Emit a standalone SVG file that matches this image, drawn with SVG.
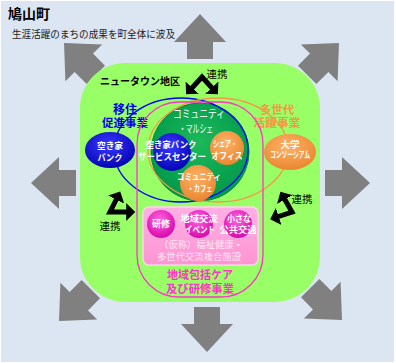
<svg xmlns="http://www.w3.org/2000/svg" width="396" height="363" viewBox="0 0 396 363">
<style>
text{font-family:"Noto Sans CJK JP","Noto Sans",sans-serif;}
.b{font-weight:bold;}
.w{fill:#ffffff;}
.sm{font-size:9px;font-weight:bold;fill:#ffffff;text-anchor:middle;}
.lk{font-size:10.5px;fill:#000000;text-anchor:middle;}
.ga{fill:#808080;}
.ba{fill:none;stroke:#000000;stroke-width:5;stroke-linejoin:miter;marker-start:url(#bh);marker-end:url(#bh);}
</style>
<defs>
<path id="garrow" d="M0,0 L26,28 L13,28 L13,45 L-13,45 L-13,28 L-26,28 Z"/>
<marker id="bh" viewBox="0 0 10 10" refX="1" refY="5" markerWidth="3.6" markerHeight="3.6" orient="auto-start-reverse">
<path d="M0,0 L5,5 L0,10 Z" fill="#000000"/>
</marker>
<radialGradient id="gBlue" cx="0.45" cy="0.35" r="0.7">
<stop offset="0" stop-color="#3a3aff"/><stop offset="1" stop-color="#0000b0"/>
</radialGradient>
<radialGradient id="gOr" cx="0.45" cy="0.35" r="0.7">
<stop offset="0" stop-color="#ffb266"/><stop offset="1" stop-color="#e8842e"/>
</radialGradient>
<radialGradient id="gMg" cx="0.45" cy="0.35" r="0.7">
<stop offset="0" stop-color="#ff66e0"/><stop offset="1" stop-color="#d600a8"/>
</radialGradient>
<radialGradient id="gGr" cx="0.5" cy="0.4" r="0.6">
<stop offset="0" stop-color="#1cb85a"/><stop offset="1" stop-color="#00994a"/>
</radialGradient>
<linearGradient id="gPk" x1="0" y1="0" x2="0" y2="1">
<stop offset="0" stop-color="#ffb0e6"/><stop offset="1" stop-color="#ff95d2"/>
</linearGradient>
</defs>

<rect x="0" y="0" width="396" height="363" fill="#ffffff"/>
<rect x="1" y="1" width="393" height="361" fill="#dce6f2"/>

<g id="title">
<text x="8" y="19" class="b" font-size="14" fill="#000">鳩山町</text>
<text x="12" y="38" font-size="10" fill="#222" textLength="163" lengthAdjust="spacingAndGlyphs">生涯活躍のまちの成果を町全体に波及</text>
</g>

<g id="spread-arrows" class="ga">
<use href="#garrow" transform="translate(200,14)"/>
<use href="#garrow" transform="translate(207,352) rotate(180)"/>
<use href="#garrow" transform="translate(31,183) rotate(-90)"/>
<use href="#garrow" transform="translate(370,183) rotate(90)"/>
<use href="#garrow" transform="translate(64,43) rotate(-45)"/>
<use href="#garrow" transform="translate(339,43) rotate(45)"/>
<use href="#garrow" transform="translate(59,321) rotate(-135)"/>
<use href="#garrow" transform="translate(342,320) rotate(135)"/>
</g>

<g id="newtown">
<rect x="80" y="63" width="240" height="239" rx="45" ry="45" fill="#99ff66"/>
<text x="100" y="85" class="b" font-size="10.5" fill="#000" textLength="80" lengthAdjust="spacingAndGlyphs">ニュータウン地区</text>
</g>

<g id="marche">
<circle cx="200" cy="152" r="49" fill="url(#gGr)" stroke="#008a40" stroke-width="1"/>
<text x="199" y="118" class="w" font-size="11" text-anchor="middle" textLength="52" lengthAdjust="spacingAndGlyphs">コミュニティ</text>
<text x="196" y="133" class="w" font-size="11" text-anchor="middle" textLength="34" lengthAdjust="spacingAndGlyphs">・マルシェ</text>
</g>

<g id="migration">
<ellipse cx="181" cy="150" rx="67" ry="52" fill="none" stroke="#0000ff" stroke-width="1.3"/>
<text x="125" y="114" class="b" font-size="12" fill="#0000ee" text-anchor="middle">移住</text>
<text x="125" y="127" class="b" font-size="11.5" fill="#0000ee" text-anchor="middle" textLength="46" lengthAdjust="spacingAndGlyphs">促進事業</text>
</g>

<g id="multigen">
<ellipse cx="218" cy="150" rx="70" ry="52" fill="none" stroke="#f79646" stroke-width="1.3"/>
<text x="277" y="114" class="b" font-size="11.5" fill="#f79646" text-anchor="middle">多世代</text>
<text x="277" y="127" class="b" font-size="11.5" fill="#f79646" text-anchor="middle" textLength="47" lengthAdjust="spacingAndGlyphs">活躍事業</text>
</g>

<g id="care">
<rect x="137" y="102" width="126" height="195" rx="42" ry="42" fill="none" stroke="#ff33cc" stroke-width="1.3"/>
<text x="200" y="279" class="b" font-size="11.5" fill="#ff33cc" text-anchor="middle" textLength="66" lengthAdjust="spacingAndGlyphs">地域包括ケア</text>
<text x="200" y="293" class="b" font-size="11.5" fill="#ff33cc" text-anchor="middle" textLength="68" lengthAdjust="spacingAndGlyphs">及び研修事業</text>
</g>

<g id="akiya-center">
<circle cx="172" cy="152" r="19" fill="url(#gBlue)"/>
<text x="171" y="148" class="sm" textLength="51" lengthAdjust="spacingAndGlyphs">空き家バンク</text>
<text x="172" y="160" class="sm" textLength="68" lengthAdjust="spacingAndGlyphs">サービスセンター</text>
</g>

<g id="share-office">
<circle cx="227" cy="148" r="17" fill="url(#gOr)"/>
<text x="225" y="147" class="sm" textLength="24" lengthAdjust="spacingAndGlyphs">シェア・</text>
<text x="227" y="159" class="sm" textLength="31" lengthAdjust="spacingAndGlyphs">オフィス</text>
</g>

<g id="community-cafe">
<circle cx="198" cy="183" r="18" fill="url(#gOr)"/>
<text x="199" y="180" class="sm" textLength="44" lengthAdjust="spacingAndGlyphs">コミュニティ</text>
<text x="200" y="192" class="sm" textLength="25" lengthAdjust="spacingAndGlyphs">・カフェ</text>
</g>

<g id="akiya-bank">
<ellipse cx="110" cy="150" rx="25" ry="18" fill="url(#gBlue)"/>
<text x="110" y="149" class="sm" textLength="26" lengthAdjust="spacingAndGlyphs">空き家</text>
<text x="110" y="161" class="sm" textLength="25" lengthAdjust="spacingAndGlyphs">バンク</text>
</g>

<g id="university">
<ellipse cx="290" cy="152" rx="26" ry="18" fill="url(#gOr)"/>
<text x="290" y="148" class="sm" textLength="19" lengthAdjust="spacingAndGlyphs">大学</text>
<text x="290" y="158" class="sm" font-size="8" textLength="40" lengthAdjust="spacingAndGlyphs">コンソーシアム</text>
</g>

<g id="facility">
<rect x="143" y="207" width="115" height="58" rx="6" ry="6" fill="url(#gPk)" stroke="#ffd2ee" stroke-width="1.5"/>
<circle cx="161" cy="224" r="14" fill="url(#gMg)"/>
<circle cx="199" cy="224" r="14" fill="url(#gMg)"/>
<circle cx="238" cy="224" r="14" fill="url(#gMg)"/>
<text x="161" y="227" class="sm" textLength="18" lengthAdjust="spacingAndGlyphs">研修</text>
<text x="199" y="222" class="sm" textLength="37" lengthAdjust="spacingAndGlyphs">地域交流</text>
<text x="200" y="233" class="sm" textLength="30" lengthAdjust="spacingAndGlyphs">イベント</text>
<text x="239" y="222" class="sm" textLength="24" lengthAdjust="spacingAndGlyphs">小さな</text>
<text x="238" y="233" class="sm" textLength="37" lengthAdjust="spacingAndGlyphs">公共交通</text>
<text x="201" y="248" font-size="9.5" fill="#ffe6f5" text-anchor="middle" textLength="84" lengthAdjust="spacingAndGlyphs">（仮称）福祉健康・</text>
<text x="199" y="260" font-size="9.5" fill="#ffe6f5" text-anchor="middle" textLength="84" lengthAdjust="spacingAndGlyphs">多世代交流複合施設</text>
</g>

<g id="connectors">
<polyline class="ba" points="191,89 202,77 213,89"/>
<polyline class="ba" points="117,198 110,212 128,212"/>
<polyline class="ba" points="284,198 292,212 277,217"/>
<text x="217" y="78" class="lk">連携</text>
<text x="110" y="230" class="lk">連携</text>
<text x="302" y="203" class="lk">連携</text>
</g>
</svg>
